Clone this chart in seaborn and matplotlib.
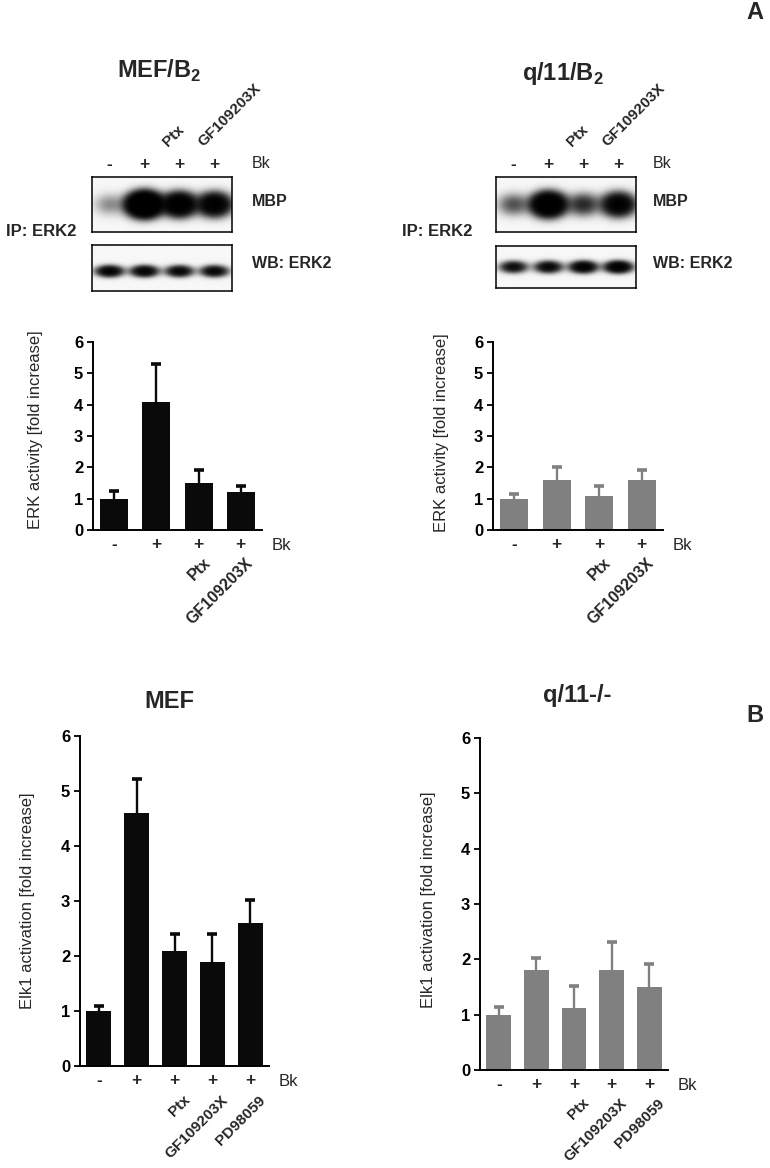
import numpy as np
import pandas as pd
import matplotlib
matplotlib.use("Agg")
import matplotlib.pyplot as plt
import seaborn as sns

sns.set_theme(style="ticks")
plt.rcParams["font.family"] = ["Liberation Sans", "DejaVu Sans"]
plt.rcParams["mathtext.fontset"] = "custom"
plt.rcParams["mathtext.rm"] = "Liberation Sans"
plt.rcParams["mathtext.bf"] = "Liberation Sans:bold"

# ---- data ----
signs_a = ["-", "+", "+", "+"]
treat_a = ["", "", "Ptx", "GF109203X"]
signs_b = ["-", "+", "+", "+", "+"]
treat_b = ["", "", "Ptx", "GF109203X", "PD98059"]

erk_mef = [1.0, 4.1, 1.5, 1.2]
erk_mef_err = [0.25, 1.2, 0.42, 0.2]
erk_q11 = [1.0, 1.6, 1.1, 1.6]
erk_q11_err = [0.15, 0.42, 0.3, 0.32]

elk_mef = [1.0, 4.6, 2.1, 1.9, 2.6]
elk_mef_err = [0.1, 0.62, 0.3, 0.5, 0.42]
elk_q11 = [1.0, 1.8, 1.12, 1.8, 1.5]
elk_q11_err = [0.14, 0.22, 0.4, 0.52, 0.42]

# band strengths of the blots (relative signal per lane)
mbp_mef = [0.55, 14.0, 7.0, 5.5]
wb_mef = [4.0, 4.0, 3.5, 3.5]
mbp_q11 = [1.1, 9.0, 1.8, 5.0]
wb_q11 = [3.0, 3.5, 4.5, 5.0]

W, H = 770, 1168
BLACK = "#0a0a0a"
GRAY = "#808080"

fig = plt.figure(figsize=(W / 100, H / 100), dpi=100)


def box(x0, y0, x1, y1):
    return [x0 / W, 1 - y1 / H, (x1 - x0) / W, (y1 - y0) / H]


def bar_panel(rect, means, errs, color, signs, treats, ylabel, lab_dx, lab_dy,
              tdx, tdy, tsize):
    ax = fig.add_axes(box(*rect))
    n = len(means)
    df = pd.DataFrame({"lane": list(range(n)), "value": means})
    sns.barplot(data=df, x="lane", y="value", color=color, width=0.66,
                saturation=1, linewidth=0, errorbar=None, ax=ax)
    eb = ax.errorbar(range(n), means, yerr=[np.zeros(n), errs], fmt="none",
                     ecolor=color, elinewidth=1.7, capsize=3.4, capthick=2.6,
                     clip_on=False)
    eb[1][0].set_visible(False)  # only the upper cap
    ax.set_xlim(-0.5, n - 0.5)
    ax.set_ylim(0, 6)
    sns.despine(ax=ax)
    for s in ["left", "bottom"]:
        ax.spines[s].set_linewidth(1.4)
        ax.spines[s].set_color("black")
    ax.set_yticks(range(7))
    ax.set_yticklabels([str(v) for v in range(7)], fontweight="bold", fontsize=12)
    ax.tick_params(axis="y", length=4, width=1.3, pad=3, colors="black")
    ax.set_xticks([])
    ax.set_xlabel("")
    ax.set_ylabel("")
    for i, s in enumerate(signs):
        ax.annotate(s, xy=(i, 0), xycoords=("data", "axes fraction"),
                    xytext=(0, -15), textcoords="offset pixels",
                    ha="center", va="center", fontsize=12.5, fontweight="bold")
    ax.annotate("Bk", xy=(1, 0), xycoords="axes fraction", xytext=(10, -15),
                textcoords="offset pixels", ha="left", va="center", fontsize=12)
    for i, t in enumerate(treats):
        if t:
            ax.annotate(t, xy=(i, 0), xycoords=("data", "axes fraction"),
                        xytext=(tdx, -tdy), textcoords="offset pixels",
                        ha="right", va="top", rotation=45, rotation_mode="anchor",
                        fontsize=tsize, fontweight="bold")
    ax.annotate(ylabel, xy=(0, 0.5), xycoords="axes fraction",
                xytext=(lab_dx, lab_dy), textcoords="offset pixels",
                ha="center", va="center", rotation=90, fontsize=12)
    return ax


def blot(rect, strengths, cy, sx, sy):
    ax = fig.add_axes(box(*rect))
    xs = np.linspace(-0.5, 3.5, 400)
    ys = np.linspace(0, 1, 120)
    X, Y = np.meshgrid(xs, ys)
    dens = np.zeros_like(X)
    for i, a in enumerate(strengths):
        dens += a * np.exp(-0.5 * ((X - i) / sx) ** 2 - 0.5 * ((Y - cy) / sy) ** 2)
    img = np.exp(-dens) * 0.97
    ax.imshow(img, cmap="gray", vmin=0, vmax=1, origin="lower",
              extent=(-0.5, 3.5, 0, 1), aspect="auto")
    ax.set_xticks([])
    ax.set_yticks([])
    for s in ax.spines.values():
        s.set_linewidth(1.1)
        s.set_color("black")
    return ax


def blot_labels(ax, x_right, x_ip):
    for i, s in enumerate(signs_a):
        ax.annotate(s, xy=(i, 1), xycoords=("data", "axes fraction"),
                    xytext=(0, 13), textcoords="offset pixels",
                    ha="center", va="center", fontsize=12.5, fontweight="bold")
    for i, t in enumerate(treat_a):
        if t:
            ax.annotate(t, xy=(i, 1), xycoords=("data", "axes fraction"),
                        xytext=(-9, 28), textcoords="offset pixels",
                        ha="left", va="bottom", rotation=45, rotation_mode="anchor",
                        fontsize=11, fontweight="bold")
    fig.text(x_right / W, 1 - 164 / H, "Bk", ha="left", va="center", fontsize=11.5)
    fig.text(x_right / W, 1 - 201 / H, "MBP", ha="left", va="center",
             fontsize=11.5, fontweight="bold")
    fig.text(x_right / W, 1 - 264 / H, "WB: ERK2", ha="left", va="center",
             fontsize=11.5, fontweight="bold")
    fig.text(x_ip / W, 1 - 231 / H, "IP: ERK2", ha="left", va="center",
             fontsize=12, fontweight="bold")


# ---- panel A blots ----
m1 = blot((92, 177, 232, 232), mbp_mef, 0.5, 0.27, 0.12)
blot((92, 245, 232, 291), wb_mef, 0.43, 0.22, 0.07)
blot_labels(m1, 252, 6)
m2 = blot((496, 177, 636, 232), mbp_q11, 0.5, 0.27, 0.12)
blot((496, 246, 636, 288), wb_q11, 0.5, 0.22, 0.08)
blot_labels(m2, 653, 402)

# ---- bar panels ----
bar_panel((93, 342, 262, 530), erk_mef, erk_mef_err, BLACK, signs_a, treat_a,
          "ERK activity [fold increase]", -57, 6, 4, 25, 11.5)
bar_panel((493, 342, 663, 530), erk_q11, erk_q11_err, GRAY, signs_a, treat_a,
          "ERK activity [fold increase]", -52, 3, 4, 25, 11.5)
bar_panel((80, 736, 269, 1066), elk_mef, elk_mef_err, BLACK, signs_b, treat_b,
          "Elk1 activation [fold increase]", -52, 0, 8, 27, 11)
bar_panel((480, 738, 668, 1070), elk_q11, elk_q11_err, GRAY, signs_b, treat_b,
          "Elk1 activation [fold increase]", -52, 4, 8, 26, 11)

# ---- titles and panel letters ----
fig.text(159 / W, 1 - 78 / H, r"MEF/B$_{\mathbf{2}}$", ha="center", va="baseline",
         fontsize=17, fontweight="bold")
fig.text(563 / W, 1 - 80 / H, r"q/11/B$_{\mathbf{2}}$", ha="center", va="baseline",
         fontsize=17, fontweight="bold")
fig.text(169 / W, 1 - 708 / H, "MEF", ha="center", va="baseline",
         fontsize=17, fontweight="bold")
fig.text(577 / W, 1 - 702 / H, "q/11-/-", ha="center", va="baseline",
         fontsize=17, fontweight="bold")
fig.text(755 / W, 1 - 19 / H, "A", ha="center", va="baseline",
         fontsize=17, fontweight="bold")
fig.text(755 / W, 1 - 722 / H, "B", ha="center", va="baseline",
         fontsize=17, fontweight="bold")

fig.savefig("out.png", dpi=100, facecolor="white")
